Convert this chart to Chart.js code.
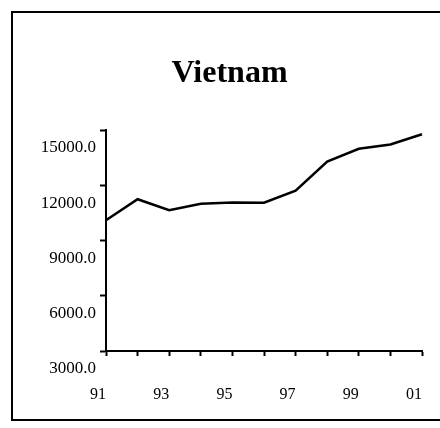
<!DOCTYPE html>
<html>
<head>
<meta charset="utf-8">
<script src="https://cdn.jsdelivr.net/npm/chart.js@4/dist/chart.umd.min.js"></script>
<style>
  html, body { margin: 0; padding: 0; background: #fff; overflow: hidden; }
  #wrap { position: relative; width: 440px; height: 428px; }
  #frame {
    position: absolute; left: 11px; top: 11px; width: 500px; height: 410px;
    box-sizing: border-box; border: 2px solid #000; pointer-events: none;
  }
</style>
</head>
<body>
<div id="wrap">
  <canvas id="line-chart" width="440" height="428"></canvas>
  <div id="frame"></div>
</div>
<script>
const years = ["91", "92", "93", "94", "95", "96", "97", "98", "99", "00", "01"];
const vietnam = [10100, 11240, 10640, 10990, 11060, 11050, 11700, 13290, 13980, 14210, 14770];
const yTicks = [3000, 6000, 9000, 12000, 15000];

const serif = '"Liberation Serif", "Times New Roman", serif';

new Chart(document.getElementById("line-chart"), {
  type: "line",
  data: {
    labels: years,
    datasets: [
      {
        label: "Vietnam",
        data: vietnam,
        borderColor: "#000",
        borderWidth: 2.5,
        pointRadius: 0,
        tension: 0,
        fill: false,
      },
    ],
  },
  options: {
    responsive: false,
    animation: false,
    layout: { padding: { left: 37, right: 18, top: 0, bottom: 0 } },
    plugins: {
      legend: { display: false },
      tooltip: { enabled: false },
      title: {
        display: true,
        text: "Vietnam",
        color: "#000",
        font: { family: serif, size: 32, weight: "bold" },
        padding: { top: 55, bottom: 36.6 },
      },
    },
    scales: {
      x: {
        offset: false,
        border: { color: "#000", width: 2 },
        grid: { drawOnChartArea: false, tickLength: 5, tickWidth: 2, tickColor: "#000" },
        ticks: {
          autoSkip: false,
          maxRotation: 0,
          align: "end",
          padding: 29,
          color: "#000",
          font: { family: serif, size: 16 },
          callback: (v, i) => (i % 2 === 0 ? years[i] : ""),
        },
        // the big label padding would otherwise eat into the right side
        afterFit: (scale) => {
          scale.height = 77;
          scale.paddingLeft = 0;
          scale.paddingRight = 0;
        },
      },
      y: {
        min: yTicks[0],
        max: yTicks[yTicks.length - 1],
        border: { color: "#000", width: 2 },
        grid: { drawOnChartArea: false, tickLength: 6, tickWidth: 2, tickColor: "#000" },
        afterBuildTicks: (scale) => { scale.ticks = yTicks.map((v) => ({ value: v })); },
        ticks: {
          padding: 4,
          labelOffset: 18,
          color: "#000",
          font: { family: serif, size: 17 },
          callback: (v) => Number(v).toFixed(1),
        },
        afterFit: (scale) => { scale.width = 69; },
      },
    },
  },
});
</script>
</body>
</html>
